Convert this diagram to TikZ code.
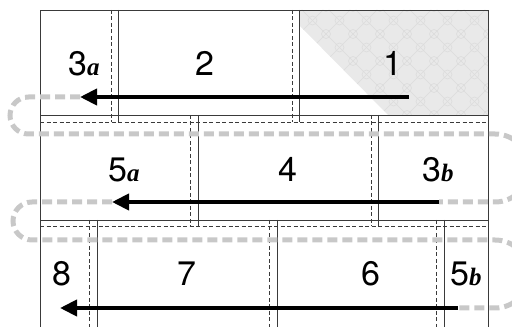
\documentclass[tikz,border=0pt]{standalone}
\usepackage{fontspec}
\setmainfont{TeX Gyre Heros}
\newfontfamily\tilesubfont{Liberation Serif}
\usetikzlibrary{arrows.meta}
\definecolor{edge}{HTML}{3A3A3A}
\definecolor{loopgray}{HTML}{C8C8C8}
\definecolor{panelgray}{HTML}{E9E9E9}
\definecolor{paneltex}{HTML}{DCDCDC}
\tikzset{
  tileline/.style={draw=edge, line width=0.9pt},
  seamline/.style={draw=edge, line width=0.6pt, dash pattern=on 4pt off 2.5pt},
  route/.style={draw=loopgray, line width=5pt, dash pattern=on 10pt off 5pt},
  flow/.style={draw=black, line width=4pt, -{Triangle[length=17pt,width=16pt]}},
  num/.style={font=\fontsize{34}{34}\selectfont, inner sep=0pt, anchor=base},
  numw/.style={font=\fontsize{34}{34}\selectfont, inner sep=0pt, anchor=base west},
  texline/.style={draw=paneltex, line width=0.6pt},
}
\newcommand{\tilesub}[1]{{\tilesubfont\bfseries\itshape\fontsize{25}{25}\selectfont #1}}
\begin{document}
\begin{tikzpicture}[x=1pt,y=1pt]
\useasboundingbox (0,0) rectangle (512,327);
% shaded panel
\begin{scope}
  \clip (299,317) -- (488,317) -- (488,212) -- (388,212) -- (299,302) -- cycle;
  \fill[panelgray] (299,212) rectangle (488,317);
  \foreach \k in {-12,...,12} {
    \draw[texline] (299+27*\k,212) -- ++(140,140);
    \draw[texline] (299+27*\k,212) -- ++(-140,140);
  }
  \foreach \i in {0,...,9} {\foreach \j in {0,...,5} {
    \draw[texline] (299+27*\i,212+27*\j) circle[radius=4.5];
    \draw[texline] (299+13.5+27*\i,212+13.5+27*\j) circle[radius=4.5];
  }}
\end{scope}
% outer frame
\draw[tileline] (40,0) -- (40,317) -- (488,317) -- (488,0);
% row seams
\draw[tileline] (40,212) -- (488,212);
\draw[seamline] (40,205) -- (488,205);
\draw[tileline] (40,107) -- (488,107);
\draw[seamline] (40,101) -- (488,101);
% row 1 joints
\draw[seamline] (111,317) -- (111,205);
\draw[tileline] (118,317) -- (118,205);
\draw[seamline] (292,317) -- (292,205);
\draw[tileline] (299,317) -- (299,205);
% row 2 joints
\draw[seamline] (190,212) -- (190,101);
\draw[tileline] (198,212) -- (198,101);
\draw[seamline] (371,212) -- (371,101);
\draw[tileline] (378,212) -- (378,101);
% row 3 joints
\draw[seamline] (89,107) -- (89,0);
\draw[tileline] (97,107) -- (97,0);
\draw[seamline] (269,107) -- (269,0);
\draw[tileline] (277,107) -- (277,0);
\draw[seamline] (436,107) -- (436,0);
\draw[tileline] (444,107) -- (444,0);
% labels
\node[numw] (l3a) at (68,251) {3\tilesub{a}};
\node[num] (l2) at (205,251) {2};
\node[num] (l1) at (393,251) {1};
\node[numw] (l5a) at (108,145) {5\tilesub{a}};
\node[num] (l4) at (288,145) {4};
\node[numw] (l3b) at (422,145) {3\tilesub{b}};
\node[num] (l8) at (62,41) {8};
\node[num] (l7) at (187,41) {7};
\node[num] (l6) at (371,41) {6};
\node[numw] (l5b) at (450,41) {5\tilesub{b}};
% route coordinates
\coordinate (s1) at (409,230);
\coordinate (e1) at (80,230);
\coordinate (s2) at (439,125);
\coordinate (e2) at (112,125);
\coordinate (s3) at (458,19);
\coordinate (e3) at (60,19);
% grey route
\draw[route] (e1) -- (28.5,230) arc[start angle=90, end angle=270, radius=18.5pt]
  -- (495,193) arc[start angle=90, end angle=-90, radius=34pt] -- (s2);
\draw[route] (e2) -- (32,125) arc[start angle=90, end angle=270, radius=19pt]
  -- (495,87) arc[start angle=90, end angle=-90, radius=34pt] -- (s3);
% arrows
\draw[flow] (s1) -- (e1);
\draw[flow] (s2) -- (e2);
\draw[flow] (s3) -- (e3);
\end{tikzpicture}
\end{document}
